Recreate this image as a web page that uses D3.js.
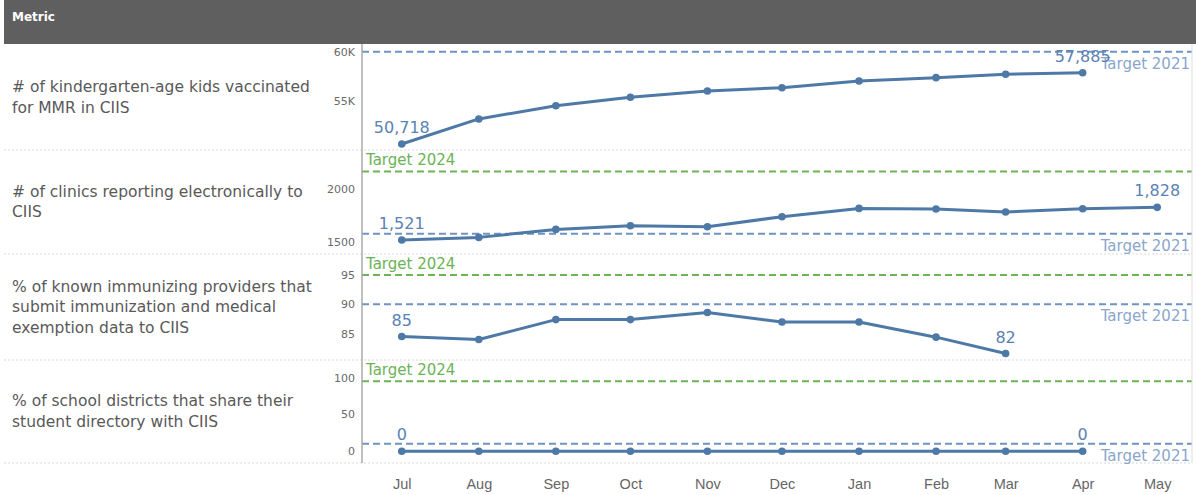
<!DOCTYPE html>
<html>
<head>
<meta charset="utf-8">
<script src="https://cdn.jsdelivr.net/npm/d3@7"></script>
<style>
  body { margin: 0; background: #fff; }
  svg { display: block; font-family: "DejaVu Sans", Verdana, sans-serif; }
</style>
</head>
<body>
<div id="chart"></div>
<script>
// months shown on the shared x axis
const months = ["2020-07-01", "2020-08-01", "2020-09-01", "2020-10-01", "2020-11-01", "2020-12-01",
  "2021-01-01", "2021-02-01", "2021-03-01", "2021-04-01", "2021-05-01"];

const metricNames = [
  ["# of kindergarten-age kids vaccinated", "for MMR in CIIS"],
  ["# of clinics reporting electronically to", "CIIS"],
  ["% of known immunizing providers that", "submit immunization and medical", "exemption data to CIIS"],
  ["% of school districts that share their", "student directory with CIIS"]
];

const kidsVaccinated = [50718, 53240, 54570, 55420, 56050, 56380, 57050, 57390, 57730, 57885];
const clinicsReporting = [1521, 1546, 1621, 1655, 1646, 1740, 1818, 1812, 1784, 1815, 1828];
const providersSubmitting = [84.5, 84.0, 87.4, 87.4, 88.6, 87.0, 87.0, 84.4, 81.6];
const districtsSharing = [0, 0, 0, 0, 0, 0, 0, 0, 0, 0];

const target2021 = [60000, 1580, 90, 10];
const target2024 = [null, 2165, 95, 95];

const yDomains = [[50120, 60670], [1390, 2366], [80.5, 98.6], [-16, 124]];
const yTicks = [[55000, 60000], [1500, 2000], [85, 90, 95], [0, 50, 100]];

const W = 1196, H = 495;
const plotLeft = 362, plotRight = 1192;
const rowEdges = [45, 150, 254, 360, 463];

const blue = "#4e79a7";
const blueDash = "#6f93c4";
const blueText = "#8aa6cd";
const green = "#6cb357";

const svg = d3.select("#chart").append("svg")
  .attr("width", W)
  .attr("height", H);

// header bar
svg.append("rect")
  .attr("x", 4).attr("y", 0)
  .attr("width", W - 4).attr("height", 44)
  .attr("fill", "#5f5f5f");
svg.append("text")
  .attr("x", 12).attr("y", 21)
  .attr("fill", "#fff")
  .style("font-size", "12px")
  .style("font-weight", "bold")
  .text("Metric");

let x = d3.scaleTime()
  .domain([new Date(2020, 5, 15), new Date(2021, 4, 15)])
  .range([plotLeft, plotRight]);

const dates = months.map(m => d3.timeParse("%Y-%m-%d")(m));
const series = [kidsVaccinated, clinicsReporting, providersSubmitting, districtsSharing];
const tickFormats = [d => d / 1000 + "K", d3.format("d"), d3.format("d"), d3.format("d")];
const labelFormats = [d3.format(","), d3.format(","), d3.format(".0f"), d3.format(".0f")];

// row separators
svg.append("g")
  .selectAll("line")
  .data(rowEdges.slice(1))
  .enter()
  .append("line")
  .attr("x1", 4).attr("x2", plotRight)
  .attr("y1", d => d).attr("y2", d => d)
  .attr("stroke", "#d8d8d8")
  .attr("stroke-dasharray", "2,2");

series.forEach(function (values, i) {
  let top = rowEdges[i], bottom = rowEdges[i + 1];
  let y = d3.scaleLinear().domain(yDomains[i]).range([bottom, top]);
  let g = svg.append("g").attr("class", "row");

  // metric name
  let mid = (top + bottom) / 2;
  let lines = metricNames[i];
  g.append("text")
    .attr("x", 12)
    .attr("fill", "#595959")
    .style("font-size", "15.5px")
    .selectAll("tspan")
    .data(lines)
    .enter()
    .append("tspan")
    .attr("x", 12)
    .attr("y", (d, k) => mid + 5 + (k - (lines.length - 1) / 2) * 20.5)
    .text(d => d);

  // y axis ticks
  let yAxis = d3.axisLeft(y).tickValues(yTicks[i]).tickFormat(tickFormats[i]).tickSize(0).tickPadding(7);
  let ax = g.append("g").attr("transform", "translate(" + plotLeft + ",0)").call(yAxis);
  ax.select(".domain").remove();
  ax.selectAll("text").attr("fill", "#6a6a6a").style("font-size", "11px").style("font-family", "DejaVu Sans");

  // target lines
  if (target2024[i] !== null) {
    let ty = y(target2024[i]);
    g.append("line")
      .attr("x1", plotLeft).attr("x2", plotRight)
      .attr("y1", ty).attr("y2", ty)
      .attr("stroke", green).attr("stroke-width", 2)
      .attr("stroke-dasharray", "7,4");
    g.append("text")
      .attr("x", plotLeft + 4).attr("y", ty - 6)
      .attr("fill", green)
      .style("font-size", "15px")
      .text("Target 2024");
  }
  let ty1 = y(target2021[i]);
  g.append("line")
    .attr("x1", plotLeft).attr("x2", plotRight)
    .attr("y1", ty1).attr("y2", ty1)
    .attr("stroke", blueDash).attr("stroke-width", 2)
    .attr("stroke-dasharray", "7,4");
  g.append("text")
    .attr("x", plotRight - 2).attr("y", ty1 + 17)
    .attr("text-anchor", "end")
    .attr("fill", blueText)
    .style("font-size", "15px")
    .text("Target 2021");

  // the line itself
  let pts = values.map((v, k) => ({date: dates[k], value: v}));
  let line = d3.line().x(d => x(d.date)).y(d => y(d.value));
  g.append("path")
    .datum(pts)
    .attr("d", line)
    .attr("fill", "none")
    .attr("stroke", blue)
    .attr("stroke-width", 3)
    .attr("stroke-linejoin", "round");
  g.selectAll("circle")
    .data(pts)
    .enter()
    .append("circle")
    .attr("cx", d => x(d.date))
    .attr("cy", d => y(d.value))
    .attr("r", 3.8)
    .attr("fill", blue);

  // first and last value labels
  let ends = [pts[0], pts[pts.length - 1]];
  g.selectAll(".lbl")
    .data(ends)
    .enter()
    .append("text")
    .attr("class", "lbl")
    .attr("x", d => x(d.date))
    .attr("y", d => y(d.value) - 11)
    .attr("text-anchor", "middle")
    .attr("fill", "#5a82b4")
    .style("font-size", "16px")
    .text(d => labelFormats[i](d.value));
});

// axis frame
svg.append("line")
  .attr("x1", plotLeft).attr("x2", plotLeft)
  .attr("y1", 44).attr("y2", rowEdges[4])
  .attr("stroke", "#aaa").attr("stroke-width", 1.5);
svg.append("line")
  .attr("x1", plotRight).attr("x2", plotRight)
  .attr("y1", 44).attr("y2", rowEdges[4])
  .attr("stroke", "#ddd");

// month axis
let xAxis = d3.axisBottom(x).tickValues(dates).tickFormat(d3.timeFormat("%b")).tickSize(0).tickPadding(0);
let xg = svg.append("g").attr("transform", "translate(0,479)").call(xAxis);
xg.select(".domain").remove();
xg.selectAll("text").attr("fill", "#666").style("font-size", "14.5px").attr("dy", "0.71em");
</script>
</body>
</html>
